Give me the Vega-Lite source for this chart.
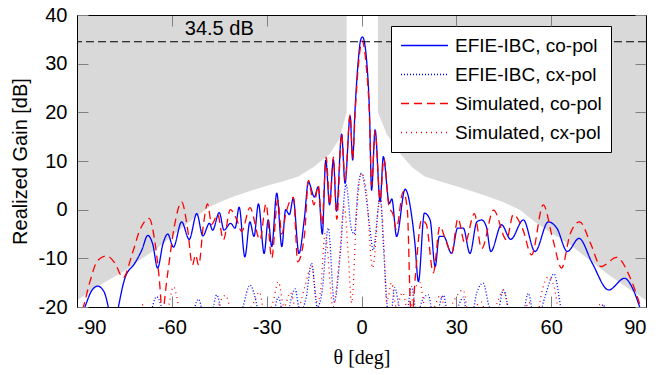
{
  "$schema": "https://vega.github.io/schema/vega-lite/v6.json",
  "width": 569,
  "height": 292,
  "autosize": {"type": "none"},
  "padding": {"left": 77, "top": 15, "right": 13, "bottom": 68},
  "background": "white",
  "config": {
    "view": {"stroke": null},
    "font": "Liberation Sans",
    "legend": {
      "orient": "none",
      "legendX": 314,
      "legendY": 11,
      "padding": 9,
      "fillColor": "white",
      "strokeColor": "black",
      "symbolType": "stroke",
      "symbolSize": 2209,
      "symbolStrokeWidth": 1.3,
      "clipHeight": 21,
      "rowPadding": 8,
      "labelOffset": 6,
      "labelFontSize": 19,
      "labelFont": "Liberation Sans",
      "labelColor": "black",
      "labelLimit": 260
    }
  },
  "datasets": {
    "mask": [
      {"theta": -90, "gain": -18.6, "side": "L"},
      {"theta": -82, "gain": -15.2, "side": "L"},
      {"theta": -75, "gain": -12.6, "side": "L"},
      {"theta": -70, "gain": -10.3, "side": "L"},
      {"theta": -64, "gain": -7.6, "side": "L"},
      {"theta": -58, "gain": -4.4, "side": "L"},
      {"theta": -53, "gain": -1.7, "side": "L"},
      {"theta": -48, "gain": 0.6, "side": "L"},
      {"theta": -44, "gain": 1.8, "side": "L"},
      {"theta": -40, "gain": 2.8, "side": "L"},
      {"theta": -35, "gain": 3.9, "side": "L"},
      {"theta": -30, "gain": 4.9, "side": "L"},
      {"theta": -25, "gain": 5.8, "side": "L"},
      {"theta": -20, "gain": 6.8, "side": "L"},
      {"theta": -15, "gain": 8.8, "side": "L"},
      {"theta": -10, "gain": 11.5, "side": "L"},
      {"theta": -7, "gain": 14.5, "side": "L"},
      {"theta": -4.7, "gain": 20, "side": "L"},
      {"theta": 5.2, "gain": 20, "side": "R"},
      {"theta": 8, "gain": 15.5, "side": "R"},
      {"theta": 12, "gain": 11.7, "side": "R"},
      {"theta": 16, "gain": 8.7, "side": "R"},
      {"theta": 20, "gain": 6.8, "side": "R"},
      {"theta": 25, "gain": 5.8, "side": "R"},
      {"theta": 30, "gain": 4.8, "side": "R"},
      {"theta": 35, "gain": 3.8, "side": "R"},
      {"theta": 40, "gain": 2.7, "side": "R"},
      {"theta": 45, "gain": 1.5, "side": "R"},
      {"theta": 50, "gain": 0, "side": "R"},
      {"theta": 55, "gain": -2.6, "side": "R"},
      {"theta": 60, "gain": -4.8, "side": "R"},
      {"theta": 66, "gain": -7.2, "side": "R"},
      {"theta": 72, "gain": -10.3, "side": "R"},
      {"theta": 78, "gain": -13.3, "side": "R"},
      {"theta": 84, "gain": -16, "side": "R"},
      {"theta": 90, "gain": -18.6, "side": "R"}
    ],
    "ref": [{"theta": -45, "gain": 34.5, "label": "34.5 dB"}],
    "pattern": [
      {"series": "EFIE-IBC, co-pol", "theta": -90, "gain": -24},
      {"series": "EFIE-IBC, co-pol", "theta": -87.5, "gain": -20},
      {"series": "EFIE-IBC, co-pol", "theta": -85.5, "gain": -16.8},
      {"series": "EFIE-IBC, co-pol", "theta": -83.5, "gain": -15.7},
      {"series": "EFIE-IBC, co-pol", "theta": -81.5, "gain": -16.8},
      {"series": "EFIE-IBC, co-pol", "theta": -80.1, "gain": -20},
      {"series": "EFIE-IBC, co-pol", "theta": -78.5, "gain": -26},
      {"series": "EFIE-IBC, co-pol", "theta": -76.9, "gain": -20},
      {"series": "EFIE-IBC, co-pol", "theta": -74.8, "gain": -14},
      {"series": "EFIE-IBC, co-pol", "theta": -71.7, "gain": -11},
      {"series": "EFIE-IBC, co-pol", "theta": -69.5, "gain": -8.3},
      {"series": "EFIE-IBC, co-pol", "theta": -67.6, "gain": -5.3},
      {"series": "EFIE-IBC, co-pol", "theta": -66, "gain": -7.2},
      {"series": "EFIE-IBC, co-pol", "theta": -64.5, "gain": -12},
      {"series": "EFIE-IBC, co-pol", "theta": -62.8, "gain": -7},
      {"series": "EFIE-IBC, co-pol", "theta": -61.3, "gain": -5},
      {"series": "EFIE-IBC, co-pol", "theta": -59.5, "gain": -7.7},
      {"series": "EFIE-IBC, co-pol", "theta": -56.9, "gain": -2.5},
      {"series": "EFIE-IBC, co-pol", "theta": -54.5, "gain": -6.1},
      {"series": "EFIE-IBC, co-pol", "theta": -52.1, "gain": -0.8},
      {"series": "EFIE-IBC, co-pol", "theta": -50.2, "gain": -5.4},
      {"series": "EFIE-IBC, co-pol", "theta": -48.1, "gain": -2.8},
      {"series": "EFIE-IBC, co-pol", "theta": -47.1, "gain": -4.2},
      {"series": "EFIE-IBC, co-pol", "theta": -45, "gain": -0.6},
      {"series": "EFIE-IBC, co-pol", "theta": -43.5, "gain": -4.2},
      {"series": "EFIE-IBC, co-pol", "theta": -41.4, "gain": -2.8},
      {"series": "EFIE-IBC, co-pol", "theta": -40, "gain": -3.8},
      {"series": "EFIE-IBC, co-pol", "theta": -38.7, "gain": 0.5},
      {"series": "EFIE-IBC, co-pol", "theta": -36.9, "gain": -9.7},
      {"series": "EFIE-IBC, co-pol", "theta": -35.3, "gain": -2.5},
      {"series": "EFIE-IBC, co-pol", "theta": -34, "gain": -5.5},
      {"series": "EFIE-IBC, co-pol", "theta": -32.6, "gain": 1.2},
      {"series": "EFIE-IBC, co-pol", "theta": -30.8, "gain": -9},
      {"series": "EFIE-IBC, co-pol", "theta": -29.5, "gain": -2.1},
      {"series": "EFIE-IBC, co-pol", "theta": -28.4, "gain": -7.6},
      {"series": "EFIE-IBC, co-pol", "theta": -26.8, "gain": 3.4},
      {"series": "EFIE-IBC, co-pol", "theta": -25.2, "gain": -7.6},
      {"series": "EFIE-IBC, co-pol", "theta": -24, "gain": 0},
      {"series": "EFIE-IBC, co-pol", "theta": -22.8, "gain": -1},
      {"series": "EFIE-IBC, co-pol", "theta": -21.6, "gain": 2.3},
      {"series": "EFIE-IBC, co-pol", "theta": -19.8, "gain": -9},
      {"series": "EFIE-IBC, co-pol", "theta": -18.1, "gain": -2},
      {"series": "EFIE-IBC, co-pol", "theta": -16.8, "gain": 5.7},
      {"series": "EFIE-IBC, co-pol", "theta": -14.9, "gain": 2.6},
      {"series": "EFIE-IBC, co-pol", "theta": -13.7, "gain": 4.7},
      {"series": "EFIE-IBC, co-pol", "theta": -12.4, "gain": -5},
      {"series": "EFIE-IBC, co-pol", "theta": -11.3, "gain": 10.2},
      {"series": "EFIE-IBC, co-pol", "theta": -10.1, "gain": 1},
      {"series": "EFIE-IBC, co-pol", "theta": -8.9, "gain": 10.3},
      {"series": "EFIE-IBC, co-pol", "theta": -7.9, "gain": -0.3},
      {"series": "EFIE-IBC, co-pol", "theta": -6.3, "gain": 15.5},
      {"series": "EFIE-IBC, co-pol", "theta": -5.2, "gain": 5.4},
      {"series": "EFIE-IBC, co-pol", "theta": -3.6, "gain": 19.2},
      {"series": "EFIE-IBC, co-pol", "theta": -2.8, "gain": 10.2},
      {"series": "EFIE-IBC, co-pol", "theta": -2.05, "gain": 20.5},
      {"series": "EFIE-IBC, co-pol", "theta": -1, "gain": 30.8},
      {"series": "EFIE-IBC, co-pol", "theta": -0.3, "gain": 34.8},
      {"series": "EFIE-IBC, co-pol", "theta": 0.3, "gain": 35.5},
      {"series": "EFIE-IBC, co-pol", "theta": 0.9, "gain": 34.5},
      {"series": "EFIE-IBC, co-pol", "theta": 1.6, "gain": 30.8},
      {"series": "EFIE-IBC, co-pol", "theta": 2.5, "gain": 20.5},
      {"series": "EFIE-IBC, co-pol", "theta": 3.2, "gain": 4},
      {"series": "EFIE-IBC, co-pol", "theta": 4.3, "gain": 16.4},
      {"series": "EFIE-IBC, co-pol", "theta": 5.9, "gain": 1.6},
      {"series": "EFIE-IBC, co-pol", "theta": 6.9, "gain": 10.9},
      {"series": "EFIE-IBC, co-pol", "theta": 8.8, "gain": 1.3},
      {"series": "EFIE-IBC, co-pol", "theta": 9.6, "gain": 2.2},
      {"series": "EFIE-IBC, co-pol", "theta": 11.1, "gain": -5.5},
      {"series": "EFIE-IBC, co-pol", "theta": 13.8, "gain": 4.2},
      {"series": "EFIE-IBC, co-pol", "theta": 15.9, "gain": -1.4},
      {"series": "EFIE-IBC, co-pol", "theta": 16.9, "gain": -6.9},
      {"series": "EFIE-IBC, co-pol", "theta": 18, "gain": -14.8},
      {"series": "EFIE-IBC, co-pol", "theta": 19.9, "gain": -0.7},
      {"series": "EFIE-IBC, co-pol", "theta": 21.7, "gain": -2.1},
      {"series": "EFIE-IBC, co-pol", "theta": 23.3, "gain": -11.7},
      {"series": "EFIE-IBC, co-pol", "theta": 24.6, "gain": -5.5},
      {"series": "EFIE-IBC, co-pol", "theta": 26, "gain": -5.5},
      {"series": "EFIE-IBC, co-pol", "theta": 28.5, "gain": -9},
      {"series": "EFIE-IBC, co-pol", "theta": 30.4, "gain": -3.8},
      {"series": "EFIE-IBC, co-pol", "theta": 32.2, "gain": -3.8},
      {"series": "EFIE-IBC, co-pol", "theta": 34.3, "gain": -9},
      {"series": "EFIE-IBC, co-pol", "theta": 36.5, "gain": -2.5},
      {"series": "EFIE-IBC, co-pol", "theta": 38, "gain": -2.1},
      {"series": "EFIE-IBC, co-pol", "theta": 39.5, "gain": -3.5},
      {"series": "EFIE-IBC, co-pol", "theta": 40.9, "gain": -8.6},
      {"series": "EFIE-IBC, co-pol", "theta": 44.3, "gain": -3.1},
      {"series": "EFIE-IBC, co-pol", "theta": 47.2, "gain": -6.1},
      {"series": "EFIE-IBC, co-pol", "theta": 51.2, "gain": -2.1},
      {"series": "EFIE-IBC, co-pol", "theta": 54.9, "gain": -8.6},
      {"series": "EFIE-IBC, co-pol", "theta": 59.1, "gain": -2.5},
      {"series": "EFIE-IBC, co-pol", "theta": 61.8, "gain": -3.8},
      {"series": "EFIE-IBC, co-pol", "theta": 65.1, "gain": -8.6},
      {"series": "EFIE-IBC, co-pol", "theta": 68.8, "gain": -5.9},
      {"series": "EFIE-IBC, co-pol", "theta": 73, "gain": -11},
      {"series": "EFIE-IBC, co-pol", "theta": 78.2, "gain": -16.5},
      {"series": "EFIE-IBC, co-pol", "theta": 83.2, "gain": -14.1},
      {"series": "EFIE-IBC, co-pol", "theta": 86, "gain": -16.5},
      {"series": "EFIE-IBC, co-pol", "theta": 88, "gain": -20},
      {"series": "EFIE-IBC, co-pol", "theta": 90, "gain": -24},

      {"series": "EFIE-IBC, cx-pol", "theta": -90, "gain": -30},
      {"series": "EFIE-IBC, cx-pol", "theta": -70, "gain": -28},
      {"series": "EFIE-IBC, cx-pol", "theta": -67, "gain": -22},
      {"series": "EFIE-IBC, cx-pol", "theta": -64.8, "gain": -17.9},
      {"series": "EFIE-IBC, cx-pol", "theta": -62.5, "gain": -22},
      {"series": "EFIE-IBC, cx-pol", "theta": -60, "gain": -30},
      {"series": "EFIE-IBC, cx-pol", "theta": -54, "gain": -23},
      {"series": "EFIE-IBC, cx-pol", "theta": -51.6, "gain": -18.4},
      {"series": "EFIE-IBC, cx-pol", "theta": -49, "gain": -24},
      {"series": "EFIE-IBC, cx-pol", "theta": -47.5, "gain": -22},
      {"series": "EFIE-IBC, cx-pol", "theta": -45.8, "gain": -17.5},
      {"series": "EFIE-IBC, cx-pol", "theta": -44, "gain": -22},
      {"series": "EFIE-IBC, cx-pol", "theta": -41, "gain": -28},
      {"series": "EFIE-IBC, cx-pol", "theta": -37.5, "gain": -20},
      {"series": "EFIE-IBC, cx-pol", "theta": -35.3, "gain": -15.5},
      {"series": "EFIE-IBC, cx-pol", "theta": -33, "gain": -20},
      {"series": "EFIE-IBC, cx-pol", "theta": -31, "gain": -28},
      {"series": "EFIE-IBC, cx-pol", "theta": -28, "gain": -22},
      {"series": "EFIE-IBC, cx-pol", "theta": -26.3, "gain": -18},
      {"series": "EFIE-IBC, cx-pol", "theta": -24, "gain": -24},
      {"series": "EFIE-IBC, cx-pol", "theta": -22.5, "gain": -19},
      {"series": "EFIE-IBC, cx-pol", "theta": -21, "gain": -16.3},
      {"series": "EFIE-IBC, cx-pol", "theta": -19.5, "gain": -21},
      {"series": "EFIE-IBC, cx-pol", "theta": -17.5, "gain": -18},
      {"series": "EFIE-IBC, cx-pol", "theta": -15.8, "gain": -11},
      {"series": "EFIE-IBC, cx-pol", "theta": -14, "gain": -20},
      {"series": "EFIE-IBC, cx-pol", "theta": -12.5, "gain": -17},
      {"series": "EFIE-IBC, cx-pol", "theta": -10.5, "gain": -3.8},
      {"series": "EFIE-IBC, cx-pol", "theta": -8.6, "gain": -19},
      {"series": "EFIE-IBC, cx-pol", "theta": -6.8, "gain": -9.7},
      {"series": "EFIE-IBC, cx-pol", "theta": -4.9, "gain": 5.2},
      {"series": "EFIE-IBC, cx-pol", "theta": -3.2, "gain": -4},
      {"series": "EFIE-IBC, cx-pol", "theta": -2.3, "gain": -5},
      {"series": "EFIE-IBC, cx-pol", "theta": -1, "gain": 5},
      {"series": "EFIE-IBC, cx-pol", "theta": 0, "gain": 7.5},
      {"series": "EFIE-IBC, cx-pol", "theta": 1.2, "gain": 4},
      {"series": "EFIE-IBC, cx-pol", "theta": 2.5, "gain": -3},
      {"series": "EFIE-IBC, cx-pol", "theta": 3.7, "gain": -8.3},
      {"series": "EFIE-IBC, cx-pol", "theta": 5.9, "gain": 2.7},
      {"series": "EFIE-IBC, cx-pol", "theta": 7, "gain": -8},
      {"series": "EFIE-IBC, cx-pol", "theta": 8, "gain": -19},
      {"series": "EFIE-IBC, cx-pol", "theta": 9, "gain": -24},
      {"series": "EFIE-IBC, cx-pol", "theta": 10.5, "gain": -16},
      {"series": "EFIE-IBC, cx-pol", "theta": 12, "gain": -20},
      {"series": "EFIE-IBC, cx-pol", "theta": 14, "gain": -22},
      {"series": "EFIE-IBC, cx-pol", "theta": 15.9, "gain": -15.8},
      {"series": "EFIE-IBC, cx-pol", "theta": 17.5, "gain": -22},
      {"series": "EFIE-IBC, cx-pol", "theta": 19, "gain": -19},
      {"series": "EFIE-IBC, cx-pol", "theta": 21.1, "gain": -17.5},
      {"series": "EFIE-IBC, cx-pol", "theta": 23, "gain": -23},
      {"series": "EFIE-IBC, cx-pol", "theta": 25.9, "gain": -17.6},
      {"series": "EFIE-IBC, cx-pol", "theta": 28, "gain": -24},
      {"series": "EFIE-IBC, cx-pol", "theta": 30.5, "gain": -20},
      {"series": "EFIE-IBC, cx-pol", "theta": 32.2, "gain": -18},
      {"series": "EFIE-IBC, cx-pol", "theta": 34, "gain": -25},
      {"series": "EFIE-IBC, cx-pol", "theta": 36.5, "gain": -17},
      {"series": "EFIE-IBC, cx-pol", "theta": 38.5, "gain": -15.1},
      {"series": "EFIE-IBC, cx-pol", "theta": 40.5, "gain": -20},
      {"series": "EFIE-IBC, cx-pol", "theta": 43, "gain": -21},
      {"series": "EFIE-IBC, cx-pol", "theta": 44.9, "gain": -16.5},
      {"series": "EFIE-IBC, cx-pol", "theta": 47, "gain": -22},
      {"series": "EFIE-IBC, cx-pol", "theta": 50, "gain": -25},
      {"series": "EFIE-IBC, cx-pol", "theta": 52.8, "gain": -17.2},
      {"series": "EFIE-IBC, cx-pol", "theta": 55, "gain": -24},
      {"series": "EFIE-IBC, cx-pol", "theta": 58, "gain": -18},
      {"series": "EFIE-IBC, cx-pol", "theta": 60.9, "gain": -13.2},
      {"series": "EFIE-IBC, cx-pol", "theta": 63, "gain": -20},
      {"series": "EFIE-IBC, cx-pol", "theta": 65, "gain": -28},
      {"series": "EFIE-IBC, cx-pol", "theta": 75, "gain": -22},
      {"series": "EFIE-IBC, cx-pol", "theta": 76.5, "gain": -19.5},
      {"series": "EFIE-IBC, cx-pol", "theta": 78, "gain": -23},
      {"series": "EFIE-IBC, cx-pol", "theta": 90, "gain": -30},

      {"series": "Simulated, co-pol", "theta": -90, "gain": -23},
      {"series": "Simulated, co-pol", "theta": -88, "gain": -20},
      {"series": "Simulated, co-pol", "theta": -86, "gain": -15},
      {"series": "Simulated, co-pol", "theta": -83.5, "gain": -10.5},
      {"series": "Simulated, co-pol", "theta": -80.6, "gain": -9.5},
      {"series": "Simulated, co-pol", "theta": -78, "gain": -11},
      {"series": "Simulated, co-pol", "theta": -75.4, "gain": -14},
      {"series": "Simulated, co-pol", "theta": -72.5, "gain": -9},
      {"series": "Simulated, co-pol", "theta": -70, "gain": -4},
      {"series": "Simulated, co-pol", "theta": -67.2, "gain": -1.8},
      {"series": "Simulated, co-pol", "theta": -65.5, "gain": -6},
      {"series": "Simulated, co-pol", "theta": -64, "gain": -14},
      {"series": "Simulated, co-pol", "theta": -63, "gain": -21},
      {"series": "Simulated, co-pol", "theta": -61.5, "gain": -14},
      {"series": "Simulated, co-pol", "theta": -59.2, "gain": -3.4},
      {"series": "Simulated, co-pol", "theta": -56.9, "gain": 1.6},
      {"series": "Simulated, co-pol", "theta": -55, "gain": -4},
      {"series": "Simulated, co-pol", "theta": -53.5, "gain": -11.4},
      {"series": "Simulated, co-pol", "theta": -52.5, "gain": -9.3},
      {"series": "Simulated, co-pol", "theta": -51.5, "gain": -11.4},
      {"series": "Simulated, co-pol", "theta": -50, "gain": -3},
      {"series": "Simulated, co-pol", "theta": -48.7, "gain": 1.2},
      {"series": "Simulated, co-pol", "theta": -47.4, "gain": -3},
      {"series": "Simulated, co-pol", "theta": -45.5, "gain": -1},
      {"series": "Simulated, co-pol", "theta": -43.7, "gain": -6.2},
      {"series": "Simulated, co-pol", "theta": -41.5, "gain": 0},
      {"series": "Simulated, co-pol", "theta": -39.5, "gain": -2},
      {"series": "Simulated, co-pol", "theta": -37.9, "gain": -4.5},
      {"series": "Simulated, co-pol", "theta": -35.3, "gain": 0.4},
      {"series": "Simulated, co-pol", "theta": -32.1, "gain": -6.2},
      {"series": "Simulated, co-pol", "theta": -30.2, "gain": 1.2},
      {"series": "Simulated, co-pol", "theta": -28.4, "gain": -10},
      {"series": "Simulated, co-pol", "theta": -26.5, "gain": 2},
      {"series": "Simulated, co-pol", "theta": -25.2, "gain": -5},
      {"series": "Simulated, co-pol", "theta": -24, "gain": -1},
      {"series": "Simulated, co-pol", "theta": -21.5, "gain": 2.5},
      {"series": "Simulated, co-pol", "theta": -20.2, "gain": -10.7},
      {"series": "Simulated, co-pol", "theta": -18, "gain": -5},
      {"series": "Simulated, co-pol", "theta": -16.8, "gain": 6},
      {"series": "Simulated, co-pol", "theta": -15, "gain": 1},
      {"series": "Simulated, co-pol", "theta": -13.7, "gain": 5},
      {"series": "Simulated, co-pol", "theta": -12.5, "gain": -3},
      {"series": "Simulated, co-pol", "theta": -11.2, "gain": 10.8},
      {"series": "Simulated, co-pol", "theta": -10, "gain": 1},
      {"series": "Simulated, co-pol", "theta": -8.9, "gain": 10.8},
      {"series": "Simulated, co-pol", "theta": -7.8, "gain": -2},
      {"series": "Simulated, co-pol", "theta": -6.3, "gain": 15.6},
      {"series": "Simulated, co-pol", "theta": -5.2, "gain": 6},
      {"series": "Simulated, co-pol", "theta": -3.6, "gain": 19.5},
      {"series": "Simulated, co-pol", "theta": -2.8, "gain": 10.5},
      {"series": "Simulated, co-pol", "theta": -2, "gain": 20},
      {"series": "Simulated, co-pol", "theta": -1, "gain": 29.5},
      {"series": "Simulated, co-pol", "theta": 0.2, "gain": 34.7},
      {"series": "Simulated, co-pol", "theta": 1.5, "gain": 29.5},
      {"series": "Simulated, co-pol", "theta": 2.5, "gain": 19.5},
      {"series": "Simulated, co-pol", "theta": 3.2, "gain": 5},
      {"series": "Simulated, co-pol", "theta": 4.3, "gain": 16.2},
      {"series": "Simulated, co-pol", "theta": 5.9, "gain": 2},
      {"series": "Simulated, co-pol", "theta": 7.1, "gain": 10.5},
      {"series": "Simulated, co-pol", "theta": 8.7, "gain": 0.6},
      {"series": "Simulated, co-pol", "theta": 10, "gain": -1},
      {"series": "Simulated, co-pol", "theta": 11, "gain": -4},
      {"series": "Simulated, co-pol", "theta": 13.2, "gain": 3.7},
      {"series": "Simulated, co-pol", "theta": 14.5, "gain": 0},
      {"series": "Simulated, co-pol", "theta": 15.5, "gain": -20},
      {"series": "Simulated, co-pol", "theta": 16, "gain": -22},
      {"series": "Simulated, co-pol", "theta": 17, "gain": -14},
      {"series": "Simulated, co-pol", "theta": 19, "gain": -2.1},
      {"series": "Simulated, co-pol", "theta": 20.5, "gain": -3},
      {"series": "Simulated, co-pol", "theta": 22.7, "gain": -13},
      {"series": "Simulated, co-pol", "theta": 24.8, "gain": -3.4},
      {"series": "Simulated, co-pol", "theta": 26.5, "gain": -6},
      {"series": "Simulated, co-pol", "theta": 28.5, "gain": -9},
      {"series": "Simulated, co-pol", "theta": 30.5, "gain": -1.8},
      {"series": "Simulated, co-pol", "theta": 32.7, "gain": -6.9},
      {"series": "Simulated, co-pol", "theta": 35.7, "gain": -0.8},
      {"series": "Simulated, co-pol", "theta": 38, "gain": -8},
      {"series": "Simulated, co-pol", "theta": 41.8, "gain": -0.1},
      {"series": "Simulated, co-pol", "theta": 45.9, "gain": -6.2},
      {"series": "Simulated, co-pol", "theta": 48, "gain": -1},
      {"series": "Simulated, co-pol", "theta": 51, "gain": -4},
      {"series": "Simulated, co-pol", "theta": 53.8, "gain": -9.3},
      {"series": "Simulated, co-pol", "theta": 57.5, "gain": 1},
      {"series": "Simulated, co-pol", "theta": 60.5, "gain": -6},
      {"series": "Simulated, co-pol", "theta": 63.3, "gain": -12},
      {"series": "Simulated, co-pol", "theta": 66, "gain": -5},
      {"series": "Simulated, co-pol", "theta": 69, "gain": -2.5},
      {"series": "Simulated, co-pol", "theta": 72.5, "gain": -7},
      {"series": "Simulated, co-pol", "theta": 75.8, "gain": -11.7},
      {"series": "Simulated, co-pol", "theta": 80.7, "gain": -9.8},
      {"series": "Simulated, co-pol", "theta": 85, "gain": -14},
      {"series": "Simulated, co-pol", "theta": 88.1, "gain": -19.5},
      {"series": "Simulated, co-pol", "theta": 90, "gain": -23},

      {"series": "Simulated, cx-pol", "theta": -90, "gain": -30},
      {"series": "Simulated, cx-pol", "theta": -72, "gain": -25},
      {"series": "Simulated, cx-pol", "theta": -69, "gain": -19.5},
      {"series": "Simulated, cx-pol", "theta": -66.5, "gain": -24},
      {"series": "Simulated, cx-pol", "theta": -61.5, "gain": -21},
      {"series": "Simulated, cx-pol", "theta": -59.5, "gain": -15.8},
      {"series": "Simulated, cx-pol", "theta": -57.5, "gain": -21},
      {"series": "Simulated, cx-pol", "theta": -55, "gain": -27},
      {"series": "Simulated, cx-pol", "theta": -47, "gain": -22},
      {"series": "Simulated, cx-pol", "theta": -43, "gain": -17.6},
      {"series": "Simulated, cx-pol", "theta": -40, "gain": -24},
      {"series": "Simulated, cx-pol", "theta": -37, "gain": -22},
      {"series": "Simulated, cx-pol", "theta": -34, "gain": -19},
      {"series": "Simulated, cx-pol", "theta": -32.3, "gain": -16.9},
      {"series": "Simulated, cx-pol", "theta": -30.5, "gain": -22},
      {"series": "Simulated, cx-pol", "theta": -28, "gain": -19},
      {"series": "Simulated, cx-pol", "theta": -26.3, "gain": -14.8},
      {"series": "Simulated, cx-pol", "theta": -24.5, "gain": -20},
      {"series": "Simulated, cx-pol", "theta": -22.5, "gain": -17},
      {"series": "Simulated, cx-pol", "theta": -20.5, "gain": -21},
      {"series": "Simulated, cx-pol", "theta": -18, "gain": -16},
      {"series": "Simulated, cx-pol", "theta": -15.8, "gain": -11.5},
      {"series": "Simulated, cx-pol", "theta": -14, "gain": -19},
      {"series": "Simulated, cx-pol", "theta": -13, "gain": -17},
      {"series": "Simulated, cx-pol", "theta": -11.5, "gain": -4.9},
      {"series": "Simulated, cx-pol", "theta": -9, "gain": -20},
      {"series": "Simulated, cx-pol", "theta": -7, "gain": -10},
      {"series": "Simulated, cx-pol", "theta": -5.5, "gain": 1},
      {"series": "Simulated, cx-pol", "theta": -4.3, "gain": -8},
      {"series": "Simulated, cx-pol", "theta": -3.1, "gain": -19.2},
      {"series": "Simulated, cx-pol", "theta": -1.5, "gain": 0},
      {"series": "Simulated, cx-pol", "theta": 0, "gain": 7.5},
      {"series": "Simulated, cx-pol", "theta": 1.5, "gain": 4},
      {"series": "Simulated, cx-pol", "theta": 3.5, "gain": -12},
      {"series": "Simulated, cx-pol", "theta": 5.9, "gain": 2.7},
      {"series": "Simulated, cx-pol", "theta": 7, "gain": -6},
      {"series": "Simulated, cx-pol", "theta": 8, "gain": -19},
      {"series": "Simulated, cx-pol", "theta": 9.5, "gain": -15},
      {"series": "Simulated, cx-pol", "theta": 11, "gain": -20},
      {"series": "Simulated, cx-pol", "theta": 13, "gain": -17},
      {"series": "Simulated, cx-pol", "theta": 15, "gain": -22},
      {"series": "Simulated, cx-pol", "theta": 16.5, "gain": -17},
      {"series": "Simulated, cx-pol", "theta": 18.5, "gain": -15},
      {"series": "Simulated, cx-pol", "theta": 20, "gain": -20},
      {"series": "Simulated, cx-pol", "theta": 22, "gain": -21},
      {"series": "Simulated, cx-pol", "theta": 25, "gain": -17.6},
      {"series": "Simulated, cx-pol", "theta": 27, "gain": -22},
      {"series": "Simulated, cx-pol", "theta": 29, "gain": -19},
      {"series": "Simulated, cx-pol", "theta": 32.2, "gain": -16.5},
      {"series": "Simulated, cx-pol", "theta": 34, "gain": -22},
      {"series": "Simulated, cx-pol", "theta": 36, "gain": -20},
      {"series": "Simulated, cx-pol", "theta": 38, "gain": -19},
      {"series": "Simulated, cx-pol", "theta": 40, "gain": -24},
      {"series": "Simulated, cx-pol", "theta": 43, "gain": -19},
      {"series": "Simulated, cx-pol", "theta": 44.9, "gain": -16.5},
      {"series": "Simulated, cx-pol", "theta": 47, "gain": -22},
      {"series": "Simulated, cx-pol", "theta": 50, "gain": -24},
      {"series": "Simulated, cx-pol", "theta": 53, "gain": -19},
      {"series": "Simulated, cx-pol", "theta": 55, "gain": -24},
      {"series": "Simulated, cx-pol", "theta": 57, "gain": -17},
      {"series": "Simulated, cx-pol", "theta": 59.1, "gain": -13.8},
      {"series": "Simulated, cx-pol", "theta": 61, "gain": -16},
      {"series": "Simulated, cx-pol", "theta": 62.5, "gain": -22},
      {"series": "Simulated, cx-pol", "theta": 66, "gain": -30},
      {"series": "Simulated, cx-pol", "theta": 72, "gain": -24},
      {"series": "Simulated, cx-pol", "theta": 75.5, "gain": -19.5},
      {"series": "Simulated, cx-pol", "theta": 77.5, "gain": -24},
      {"series": "Simulated, cx-pol", "theta": 90, "gain": -30}
    ]
  },
  "layer": [
    {
      "data": {"name": "mask"},
      "mark": {"type": "area", "color": "#d9d9d9", "opacity": 1, "clip": true},
      "encoding": {
        "x": {
          "field": "theta", "type": "quantitative",
          "scale": {"domain": [-90, 90], "nice": false, "zero": false},
          "axis": {
            "orient": "bottom", "values": [-90, -60, -30, 0, 30, 60, 90],
            "labelExpr": "'' + datum.value",
            "tickSize": -11, "tickColor": "#808080", "tickWidth": 1,
            "domain": true, "domainColor": "black", "domainWidth": 1,
            "labelFontSize": 20, "labelColor": "black", "labelPadding": 21,
            "labelFont": "Liberation Sans", "grid": false, "zindex": 1,
            "title": "θ [deg]", "titleFont": "Liberation Serif", "titleFontSize": 20,
            "titleFontWeight": "normal", "titleColor": "black", "titlePadding": 10
          }
        },
        "y": {
          "field": "gain", "type": "quantitative",
          "scale": {"domain": [-20, 40], "nice": false, "zero": false},
          "axis": {
            "orient": "left", "values": [-20, -10, 0, 10, 20, 30, 40],
            "labelExpr": "'' + datum.value",
            "tickSize": -11, "tickColor": "#808080", "tickWidth": 1,
            "domain": true, "domainColor": "black", "domainWidth": 1,
            "labelFontSize": 20, "labelColor": "black", "labelPadding": 21,
            "labelFont": "Liberation Sans", "grid": false, "zindex": 1,
            "title": "Realized Gain [dB]", "titleFont": "Liberation Sans", "titleFontSize": 20,
            "titleFontWeight": "normal", "titleColor": "black", "titlePadding": 8
          }
        },
        "y2": {"datum": 40},
        "detail": {"field": "side"}
      }
    },
    {
      "data": {"name": "pattern"},
      "mark": {"type": "line", "strokeWidth": 1.3, "clip": true, "interpolate": "monotone"},
      "encoding": {
        "x": {"field": "theta", "type": "quantitative", "scale": {"domain": [-90, 90], "nice": false, "zero": false}, "axis": null},
        "y": {"field": "gain", "type": "quantitative", "scale": {"domain": [-20, 40], "nice": false, "zero": false}, "axis": null},
        "color": {
          "field": "series", "type": "nominal", "title": null,
          "scale": {
            "domain": ["EFIE-IBC, co-pol", "EFIE-IBC, cx-pol", "Simulated, co-pol", "Simulated, cx-pol"],
            "range": ["#0000ff", "#0000ff", "#ff0000", "#ff0000"]
          }
        },
        "strokeDash": {
          "field": "series", "type": "nominal", "title": null,
          "scale": {
            "domain": ["EFIE-IBC, co-pol", "EFIE-IBC, cx-pol", "Simulated, co-pol", "Simulated, cx-pol"],
            "range": [[1, 0], [1, 2], [8, 5], [1, 4]]
          }
        }
      }
    },
    {
      "data": {"name": "ref"},
      "mark": {"type": "rule", "color": "black", "strokeWidth": 1.2, "strokeDash": [8, 4]},
      "encoding": {
        "y": {"field": "gain", "type": "quantitative", "scale": {"domain": [-20, 40], "nice": false, "zero": false}, "axis": null}
      }
    },
    {
      "data": {"name": "ref"},
      "mark": {"type": "text", "fontSize": 20, "font": "Liberation Sans", "color": "black", "baseline": "alphabetic", "align": "center", "dy": -7},
      "encoding": {
        "x": {
          "field": "theta", "type": "quantitative",
          "scale": {"domain": [-90, 90], "nice": false, "zero": false},
          "axis": {
            "orient": "top", "values": [-90, -60, -30, 0, 30, 60, 90],
            "tickSize": -11, "tickColor": "#808080", "tickWidth": 1,
            "domain": true, "domainColor": "black", "domainWidth": 1,
            "labels": false, "grid": false, "title": null, "zindex": 1
          }
        },
        "y": {
          "field": "gain", "type": "quantitative",
          "scale": {"domain": [-20, 40], "nice": false, "zero": false},
          "axis": {
            "orient": "right", "values": [-20, -10, 0, 10, 20, 30, 40],
            "tickSize": -11, "tickColor": "#808080", "tickWidth": 1,
            "domain": true, "domainColor": "black", "domainWidth": 1,
            "labels": false, "grid": false, "title": null, "zindex": 1
          }
        },
        "text": {"field": "label"}
      }
    }
  ],
  "resolve": {"axis": {"x": "independent", "y": "independent"}}
}
